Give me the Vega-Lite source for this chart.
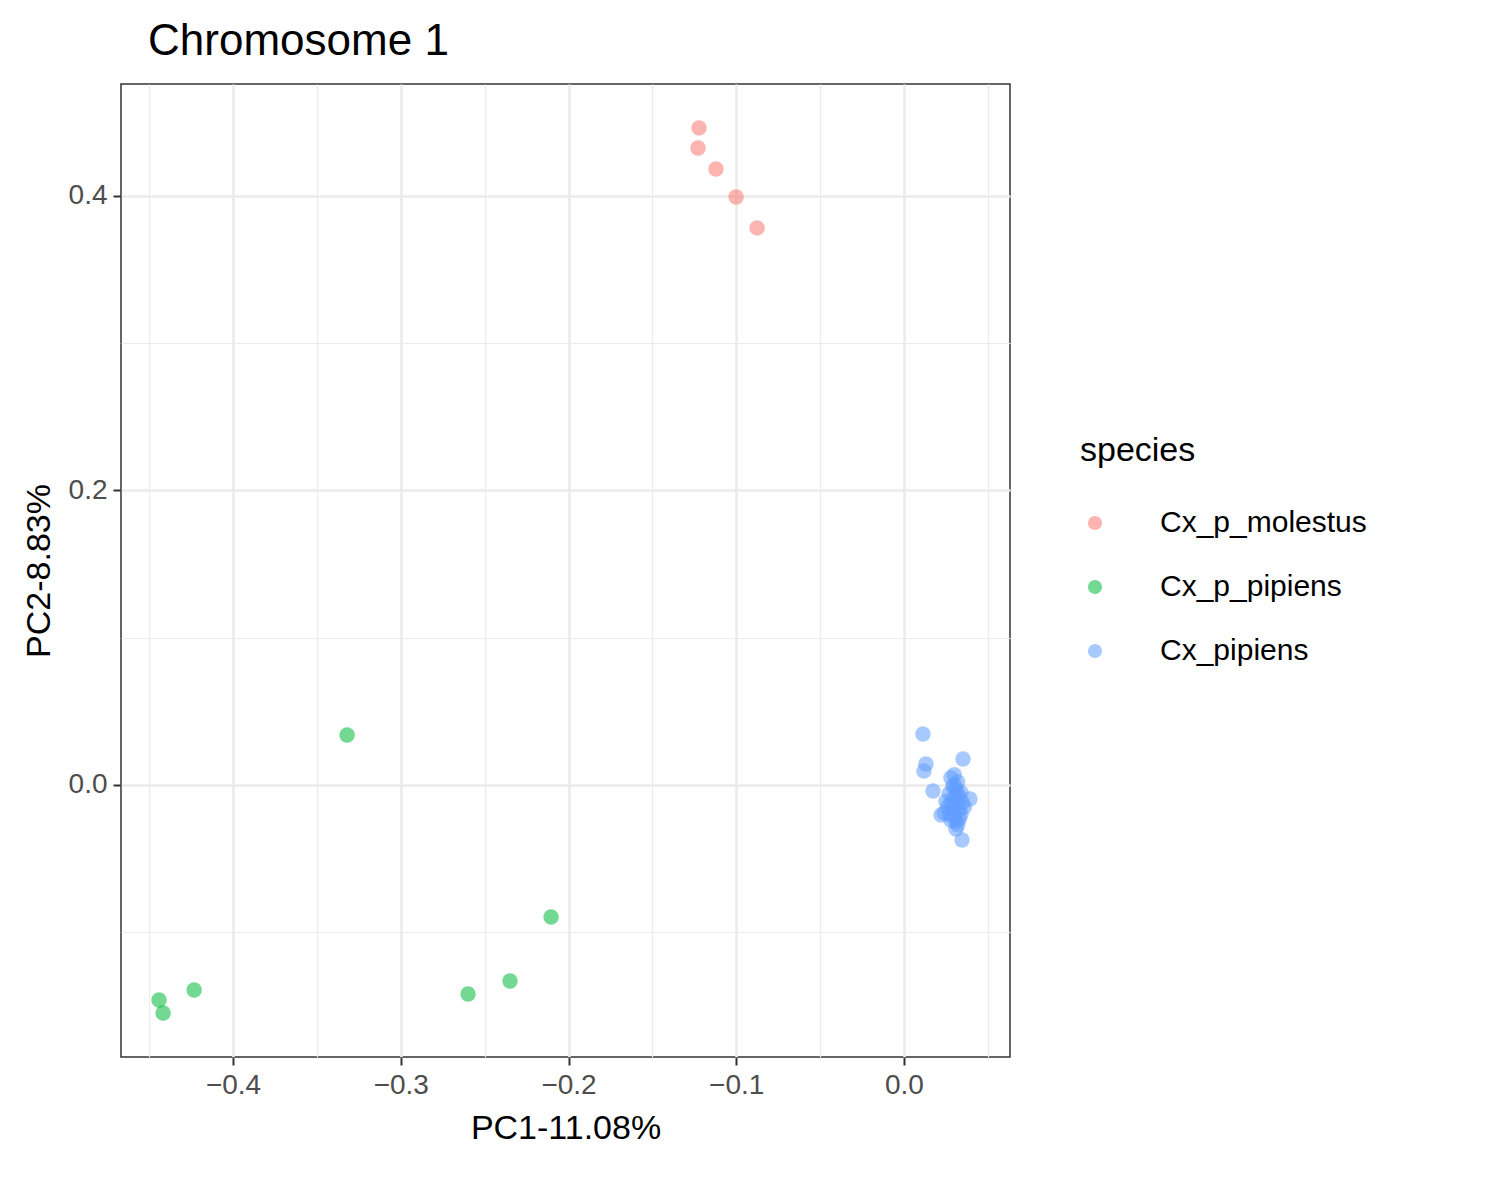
{
  "$schema": "https://vega.github.io/schema/vega-lite/v6.json",
  "width": 889,
  "height": 973,
  "background": "white",
  "padding": {"left": 22, "top": 20, "right": 30, "bottom": 10},
  "title": {"text": "Chromosome 1", "anchor": "start", "fontSize": 44, "font": "Liberation Sans", "fontWeight": "normal", "color": "black", "offset": 20, "dx": 126},
  "data": {"values": [
    {"pc1": -0.1222, "pc2": 0.4462, "species": "Cx_p_molestus"},
    {"pc1": -0.1228, "pc2": 0.4326, "species": "Cx_p_molestus"},
    {"pc1": -0.1121, "pc2": 0.4183, "species": "Cx_p_molestus"},
    {"pc1": -0.1001, "pc2": 0.3993, "species": "Cx_p_molestus"},
    {"pc1": -0.0876, "pc2": 0.3783, "species": "Cx_p_molestus"},
    {"pc1": -0.3320, "pc2": 0.0340, "species": "Cx_p_pipiens"},
    {"pc1": -0.2104, "pc2": -0.0896, "species": "Cx_p_pipiens"},
    {"pc1": -0.2349, "pc2": -0.1331, "species": "Cx_p_pipiens"},
    {"pc1": -0.2599, "pc2": -0.1419, "species": "Cx_p_pipiens"},
    {"pc1": -0.4232, "pc2": -0.1392, "species": "Cx_p_pipiens"},
    {"pc1": -0.4441, "pc2": -0.1460, "species": "Cx_p_pipiens"},
    {"pc1": -0.4417, "pc2": -0.1548, "species": "Cx_p_pipiens"},
    {"pc1": 0.0113, "pc2": 0.0346, "species": "Cx_pipiens"},
    {"pc1": 0.0131, "pc2": 0.0143, "species": "Cx_pipiens"},
    {"pc1": 0.0119, "pc2": 0.0095, "species": "Cx_pipiens"},
    {"pc1": 0.0352, "pc2": 0.0177, "species": "Cx_pipiens"},
    {"pc1": 0.0173, "pc2": -0.0041, "species": "Cx_pipiens"},
    {"pc1": 0.0393, "pc2": -0.0095, "species": "Cx_pipiens"},
    {"pc1": 0.0221, "pc2": -0.0204, "species": "Cx_pipiens"},
    {"pc1": 0.0346, "pc2": -0.0374, "species": "Cx_pipiens"},
    {"pc1": 0.0310, "pc2": -0.0299, "species": "Cx_pipiens"},
    {"pc1": 0.0280, "pc2": 0.0050, "species": "Cx_pipiens"},
    {"pc1": 0.0300, "pc2": 0.0070, "species": "Cx_pipiens"},
    {"pc1": 0.0320, "pc2": 0.0020, "species": "Cx_pipiens"},
    {"pc1": 0.0290, "pc2": -0.0010, "species": "Cx_pipiens"},
    {"pc1": 0.0310, "pc2": -0.0030, "species": "Cx_pipiens"},
    {"pc1": 0.0340, "pc2": -0.0050, "species": "Cx_pipiens"},
    {"pc1": 0.0270, "pc2": -0.0060, "species": "Cx_pipiens"},
    {"pc1": 0.0300, "pc2": -0.0080, "species": "Cx_pipiens"},
    {"pc1": 0.0330, "pc2": -0.0090, "species": "Cx_pipiens"},
    {"pc1": 0.0250, "pc2": -0.0110, "species": "Cx_pipiens"},
    {"pc1": 0.0280, "pc2": -0.0120, "species": "Cx_pipiens"},
    {"pc1": 0.0310, "pc2": -0.0130, "species": "Cx_pipiens"},
    {"pc1": 0.0350, "pc2": -0.0120, "species": "Cx_pipiens"},
    {"pc1": 0.0260, "pc2": -0.0150, "species": "Cx_pipiens"},
    {"pc1": 0.0290, "pc2": -0.0160, "species": "Cx_pipiens"},
    {"pc1": 0.0330, "pc2": -0.0170, "species": "Cx_pipiens"},
    {"pc1": 0.0240, "pc2": -0.0190, "species": "Cx_pipiens"},
    {"pc1": 0.0270, "pc2": -0.0200, "species": "Cx_pipiens"},
    {"pc1": 0.0300, "pc2": -0.0210, "species": "Cx_pipiens"},
    {"pc1": 0.0340, "pc2": -0.0200, "species": "Cx_pipiens"},
    {"pc1": 0.0280, "pc2": -0.0240, "species": "Cx_pipiens"},
    {"pc1": 0.0310, "pc2": -0.0250, "species": "Cx_pipiens"},
    {"pc1": 0.0330, "pc2": -0.0230, "species": "Cx_pipiens"},
    {"pc1": 0.0320, "pc2": -0.0270, "species": "Cx_pipiens"},
    {"pc1": 0.0360, "pc2": -0.0150, "species": "Cx_pipiens"},
    {"pc1": 0.0300, "pc2": 0.0000, "species": "Cx_pipiens"},
    {"pc1": 0.0320, "pc2": -0.0060, "species": "Cx_pipiens"}
  ]},
  "mark": {"type": "circle", "opacity": 0.55, "size": 240, "stroke": null},
  "encoding": {
    "x": {"field": "pc1", "type": "quantitative", "title": "PC1-11.08%",
      "scale": {"domain": [-0.4668, 0.0632], "nice": false, "zero": false},
      "axis": {"values": [-0.45, -0.4, -0.35, -0.3, -0.25, -0.2, -0.15, -0.1, -0.05, 0.0, 0.05],
        "labelExpr": "abs(datum.value*10 - round(datum.value*10)) < 0.001 ? format(datum.value,'.1f') : ''",
        "tickOpacity": {"condition": {"test": "abs(datum.value*10 - round(datum.value*10)) < 0.001", "value": 1}, "value": 0},
        "gridWidth": {"condition": {"test": "abs(datum.value*10 - round(datum.value*10)) < 0.001", "value": 2.5}, "value": 1.2}}},
    "y": {"field": "pc2", "type": "quantitative", "title": "PC2-8.83%",
      "scale": {"domain": [-0.1847, 0.476], "nice": false, "zero": false},
      "axis": {"values": [-0.1, 0.0, 0.1, 0.2, 0.3, 0.4],
        "labelExpr": "abs(datum.value*5 - round(datum.value*5)) < 0.001 ? format(datum.value,'.1f') : ''",
        "tickOpacity": {"condition": {"test": "abs(datum.value*5 - round(datum.value*5)) < 0.001", "value": 1}, "value": 0},
        "gridWidth": {"condition": {"test": "abs(datum.value*5 - round(datum.value*5)) < 0.001", "value": 2.5}, "value": 1.2}}},
    "color": {"field": "species", "type": "nominal", "title": "species",
      "scale": {"domain": ["Cx_p_molestus", "Cx_p_pipiens", "Cx_pipiens"], "range": ["#F8766D", "#00BA38", "#619CFF"]},
      "legend": {"orient": "none", "legendX": 959, "legendY": 350, "symbolType": "circle", "symbolSize": 200, "symbolOpacity": 0.55, "symbolStrokeWidth": 0, "titleFontSize": 34, "titleFontWeight": "normal", "labelFontSize": 30, "labelLimit": 400, "rowPadding": 34, "titlePadding": 40, "labelOffset": 50, "padding": 0}}
  },
  "config": {
    "font": "Liberation Sans",
    "view": {"stroke": "#333333", "strokeWidth": 1.5},
    "axis": {"grid": true, "gridColor": "#EBEBEB", "domain": false, "tickColor": "#333333", "tickSize": 8, "tickWidth": 2, "labelFontSize": 28, "labelColor": "#4D4D4D", "titleFontSize": 34, "titleFontWeight": "normal", "titleColor": "black", "labelPadding": 6, "titlePadding": 12},
    "legend": {"titleColor": "black", "labelColor": "black"}
  }
}
